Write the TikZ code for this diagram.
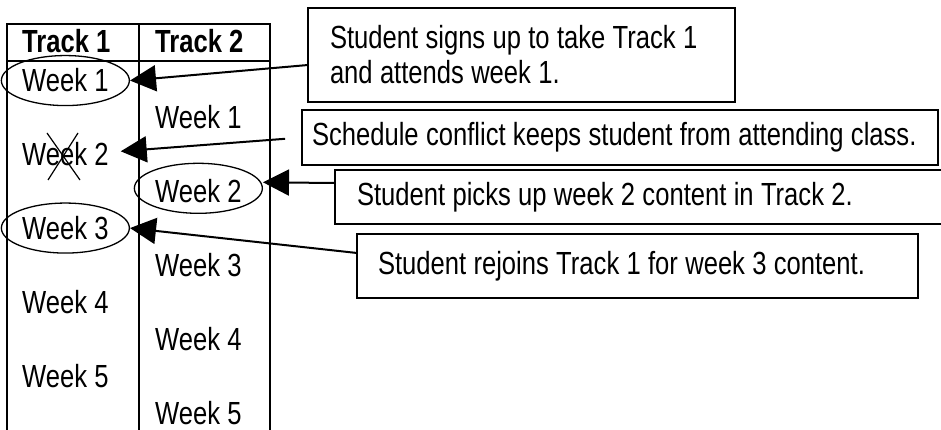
\documentclass[tikz,border=0pt]{standalone}
\usepackage{fontspec}
\setmainfont{Liberation Sans}[FakeStretch=0.8]
\usetikzlibrary{arrows.meta,shapes.geometric}

\tikzset{
  week/.style={anchor=base west, inner sep=0pt},
  ring/.style={draw, ellipse, line width=1.3pt, minimum width=128pt, minimum height=50pt},
  note/.style={draw, line width=2.4pt, anchor=north west, align=left, inner ysep=0pt, outer sep=0pt,
    execute at begin node={\spaceskip=7.3pt plus 2pt minus 1pt\relax}},
  pointer/.style={line width=2pt, -{Triangle[length=26pt,width=26pt]}}
}

\begin{document}
\begin{tikzpicture}[x=1pt, y=-1pt, font=\fontsize{32}{35}\selectfont]
  \clip (0,0) rectangle (941,430);

  % table
  \draw[line width=2pt] (7,440) -- (7,24) -- (270,24) -- (270,440);
  \draw[line width=2pt] (139,24) -- (139,440);
  \draw[line width=2pt] (7,61) -- (270,61);

  % headers
  \node[week, font=\fontsize{32}{35}\selectfont\bfseries] (h1) at (22,53) {Track 1};
  \node[week, font=\fontsize{32}{35}\selectfont\bfseries] (h2) at (155,53) {Track 2};

  % weeks
  \foreach \i in {1,...,5} {
    \node[week] (ta\i) at (22, {92+73.75*(\i-1)}) {Week \i};
    \node[week] (tb\i) at (155, {129+73.75*(\i-1)}) {Week \i};
  }

  % circled weeks
  \node[ring] (r1) at (ta1.center) {};
  \node[ring] (r2) at ([yshift=3pt]tb2.center) {};
  \node[ring] (r3) at (ta3.center) {};

  % missed week
  \draw[line width=1.2pt] (47,133) -- (80,180) (78,133) -- (48,180);

  % notes
  \node[note, text width=383pt, minimum height=94pt, inner xsep=22pt] (n1) at (308,8)
    {Student signs up to take Track 1\\and attends week 1.};
  \node[note, text width=616pt, minimum height=55pt, inner xsep=10pt] (n2) at (302,110)
    {Schedule conflict keeps student from attending class.};
  \node[note, text width=621pt, minimum height=54pt, inner xsep=22pt] (n3) at (335,170)
    {Student picks up week 2 content in Track 2.};
  \node[note, text width=519pt, minimum height=64pt, inner xsep=21pt] (n4) at (357,234)
    {Student rejoins Track 1 for week 3 content.};

  % arrows
  \draw[pointer] ([yshift=-10pt]n1.west) -- (r1.east);
  \draw[pointer, shorten <=17pt] (n2.west) -- ([xshift=12pt,yshift=3pt]ta2.east);
  \draw[pointer] ([yshift=14pt]n3.west) -- ([yshift=6pt]r2.east);
  \draw[pointer] ([yshift=13pt]n4.west) -- (r3.east);
\end{tikzpicture}
\end{document}
